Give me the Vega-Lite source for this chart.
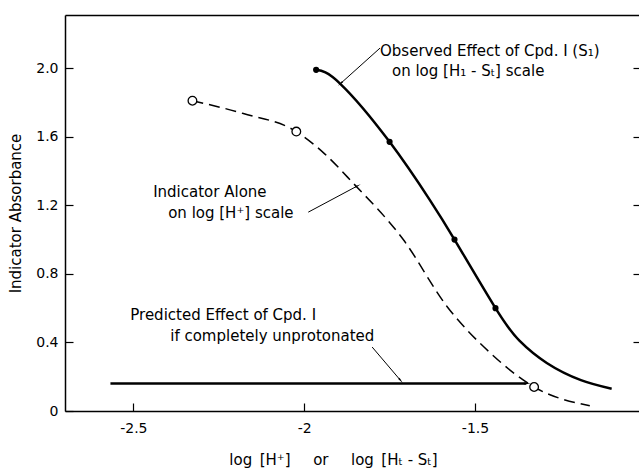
{
  "$schema": "https://vega.github.io/schema/vega-lite/v6.json",
  "width": 574,
  "height": 396,
  "autosize": {"type": "none"},
  "padding": {"left": 65, "top": 15, "right": 0, "bottom": 63},
  "background": "white",
  "config": {
    "view": {"stroke": null},
    "font": "DejaVu Sans",
    "axis": {
      "grid": false,
      "domainColor": "black",
      "tickColor": "black",
      "labelColor": "black",
      "titleColor": "black",
      "labelFont": "DejaVu Sans",
      "titleFont": "DejaVu Sans",
      "labelFontSize": 14,
      "titleFontSize": 15,
      "titleFontWeight": "normal",
      "domainWidth": 1.5,
      "tickWidth": 1.2
    }
  },
  "datasets": {
    "observed": [
      {"x": -1.965, "y": 1.99},
      {"x": -1.895, "y": 1.91},
      {"x": -1.75, "y": 1.57},
      {"x": -1.632, "y": 1.23},
      {"x": -1.56, "y": 1.0},
      {"x": -1.44, "y": 0.6},
      {"x": -1.37, "y": 0.41},
      {"x": -1.29, "y": 0.28},
      {"x": -1.19, "y": 0.18},
      {"x": -1.1, "y": 0.13}
    ],
    "observedPoints": [
      {"x": -1.965, "y": 1.99},
      {"x": -1.75, "y": 1.57},
      {"x": -1.56, "y": 1.0},
      {"x": -1.44, "y": 0.6}
    ],
    "indicator": [
      {"x": -2.327, "y": 1.81},
      {"x": -2.178, "y": 1.735},
      {"x": -2.023, "y": 1.63},
      {"x": -1.94, "y": 1.5},
      {"x": -1.857, "y": 1.33},
      {"x": -1.71, "y": 1.0},
      {"x": -1.582, "y": 0.61},
      {"x": -1.456, "y": 0.34},
      {"x": -1.327, "y": 0.14},
      {"x": -1.164, "y": 0.03}
    ],
    "indicatorPoints": [
      {"x": -2.327, "y": 1.81},
      {"x": -2.023, "y": 1.63},
      {"x": -1.327, "y": 0.14}
    ],
    "predicted": [
      {"x": -2.567, "y": 0.16},
      {"x": -1.35, "y": 0.16}
    ],
    "notes": [
      {"x": -1.778, "y": 2.1, "text": "Observed Effect of Cpd. I (S₁)"},
      {"x": -1.743, "y": 1.985, "text": "on log [H₁ - Sₜ] scale"},
      {"x": -2.442, "y": 1.277, "text": "Indicator Alone"},
      {"x": -2.398, "y": 1.155, "text": "on log [H⁺] scale"},
      {"x": -2.509, "y": 0.56, "text": "Predicted Effect of Cpd. I"},
      {"x": -2.392, "y": 0.437, "text": "if completely unprotonated"}
    ],
    "leaders": [
      {"id": "obs", "x": -1.778, "y": 2.117, "x2": -1.892, "y2": 1.913},
      {"id": "ind", "x": -1.988, "y": 1.16, "x2": -1.845, "y2": 1.312},
      {"id": "pred", "x": -1.801, "y": 0.373, "x2": -1.719, "y2": 0.181}
    ]
  },
  "resolve": {"axis": {"x": "independent", "y": "independent"}},
  "layer": [
    {
      "data": {"name": "observed"},
      "mark": {"type": "line", "interpolate": "natural", "color": "black", "strokeWidth": 2.5},
      "encoding": {
        "x": {
          "field": "x", "type": "quantitative",
          "scale": {"domain": [-2.7, -1.02], "nice": false, "zero": false},
          "axis": {
            "orient": "bottom",
            "values": [-2.5, -2, -1.5, -1],
            "labelExpr": "'' + datum.value",
            "labelFlush": false,
            "tickSize": -8,
            "labelPadding": 18,
            "title": "log\u2002[H⁺]\u2003\u2002or\u2003\u2002log\u2002[Hₜ - Sₜ]",
            "titlePadding": 17,
            "titleX": 268,
            "titleAlign": "center"
          }
        },
        "y": {
          "field": "y", "type": "quantitative",
          "scale": {"domain": [0, 2.31], "nice": false, "zero": false},
          "axis": {
            "orient": "left",
            "values": [0, 0.4, 0.8, 1.2, 1.6, 2.0],
            "labelExpr": "datum.value == 0 ? '0' : format(datum.value, '.1f')",
            "tickSize": -8,
            "labelPadding": 15,
            "title": "Indicator Absorbance",
            "titlePadding": 12
          }
        }
      }
    },
    {
      "data": {"name": "indicator"},
      "mark": {"type": "line", "interpolate": "monotone", "color": "black", "strokeWidth": 1.5, "strokeDash": [11, 6]},
      "encoding": {
        "x": {"field": "x", "type": "quantitative", "scale": {"domain": [-2.7, -1.02], "nice": false, "zero": false},
          "axis": {"orient": "top", "ticks": false, "labels": false, "title": null}},
        "y": {"field": "y", "type": "quantitative", "scale": {"domain": [0, 2.31], "nice": false, "zero": false},
          "axis": {"orient": "right", "values": [0.4, 0.8, 1.2, 1.6, 2.0], "labels": false, "domain": false, "tickSize": -6, "title": null}}
      }
    },
    {
      "data": {"name": "predicted"},
      "mark": {"type": "line", "color": "black", "strokeWidth": 2.5},
      "encoding": {
        "x": {"field": "x", "type": "quantitative", "scale": {"domain": [-2.7, -1.02], "nice": false, "zero": false}, "axis": null},
        "y": {"field": "y", "type": "quantitative", "scale": {"domain": [0, 2.31], "nice": false, "zero": false}, "axis": null}
      }
    },
    {
      "data": {"name": "predicted"},
      "transform": [{"filter": "datum.x > -2"}],
      "mark": {"type": "point", "shape": "wedge", "angle": 90, "filled": true, "color": "black", "size": 70, "opacity": 1},
      "encoding": {
        "x": {"field": "x", "type": "quantitative", "scale": {"domain": [-2.7, -1.02], "nice": false, "zero": false}, "axis": null},
        "y": {"field": "y", "type": "quantitative", "scale": {"domain": [0, 2.31], "nice": false, "zero": false}, "axis": null}
      }
    },
    {
      "data": {"name": "observedPoints"},
      "mark": {"type": "point", "shape": "circle", "filled": true, "color": "black", "size": 38, "opacity": 1},
      "encoding": {
        "x": {"field": "x", "type": "quantitative", "scale": {"domain": [-2.7, -1.02], "nice": false, "zero": false}, "axis": null},
        "y": {"field": "y", "type": "quantitative", "scale": {"domain": [0, 2.31], "nice": false, "zero": false}, "axis": null}
      }
    },
    {
      "data": {"name": "indicatorPoints"},
      "mark": {"type": "point", "shape": "circle", "filled": true, "fill": "white", "stroke": "black", "strokeWidth": 1.3, "size": 75, "opacity": 1},
      "encoding": {
        "x": {"field": "x", "type": "quantitative", "scale": {"domain": [-2.7, -1.02], "nice": false, "zero": false}, "axis": null},
        "y": {"field": "y", "type": "quantitative", "scale": {"domain": [0, 2.31], "nice": false, "zero": false}, "axis": null}
      }
    },
    {
      "data": {"name": "leaders"},
      "mark": {"type": "rule", "color": "black", "strokeWidth": 1},
      "encoding": {
        "x": {"field": "x", "type": "quantitative", "scale": {"domain": [-2.7, -1.02], "nice": false, "zero": false}, "axis": null},
        "y": {"field": "y", "type": "quantitative", "scale": {"domain": [0, 2.31], "nice": false, "zero": false}, "axis": null},
        "x2": {"field": "x2"},
        "y2": {"field": "y2"}
      }
    },
    {
      "data": {"name": "leaders"},
      "transform": [{"filter": "datum.id == 'obs'"}],
      "mark": {"type": "point", "shape": "wedge", "angle": 228, "filled": true, "color": "black", "size": 50, "opacity": 1},
      "encoding": {
        "x": {"field": "x2", "type": "quantitative", "scale": {"domain": [-2.7, -1.02], "nice": false, "zero": false}, "axis": null},
        "y": {"field": "y2", "type": "quantitative", "scale": {"domain": [0, 2.31], "nice": false, "zero": false}, "axis": null}
      }
    },
    {
      "data": {"name": "leaders"},
      "transform": [{"filter": "datum.id == 'ind'"}],
      "mark": {"type": "point", "shape": "wedge", "angle": 62, "filled": true, "color": "black", "size": 50, "opacity": 1},
      "encoding": {
        "x": {"field": "x2", "type": "quantitative", "scale": {"domain": [-2.7, -1.02], "nice": false, "zero": false}, "axis": null},
        "y": {"field": "y2", "type": "quantitative", "scale": {"domain": [0, 2.31], "nice": false, "zero": false}, "axis": null}
      }
    },
    {
      "data": {"name": "leaders"},
      "transform": [{"filter": "datum.id == 'pred'"}],
      "mark": {"type": "point", "shape": "wedge", "angle": 140, "filled": true, "color": "black", "size": 50, "opacity": 1},
      "encoding": {
        "x": {"field": "x2", "type": "quantitative", "scale": {"domain": [-2.7, -1.02], "nice": false, "zero": false}, "axis": null},
        "y": {"field": "y2", "type": "quantitative", "scale": {"domain": [0, 2.31], "nice": false, "zero": false}, "axis": null}
      }
    },
    {
      "data": {"name": "notes"},
      "mark": {"type": "text", "align": "left", "baseline": "middle", "font": "DejaVu Sans", "fontSize": 15, "color": "black"},
      "encoding": {
        "x": {"field": "x", "type": "quantitative", "scale": {"domain": [-2.7, -1.02], "nice": false, "zero": false}, "axis": null},
        "y": {"field": "y", "type": "quantitative", "scale": {"domain": [0, 2.31], "nice": false, "zero": false}, "axis": null},
        "text": {"field": "text"}
      }
    }
  ]
}
